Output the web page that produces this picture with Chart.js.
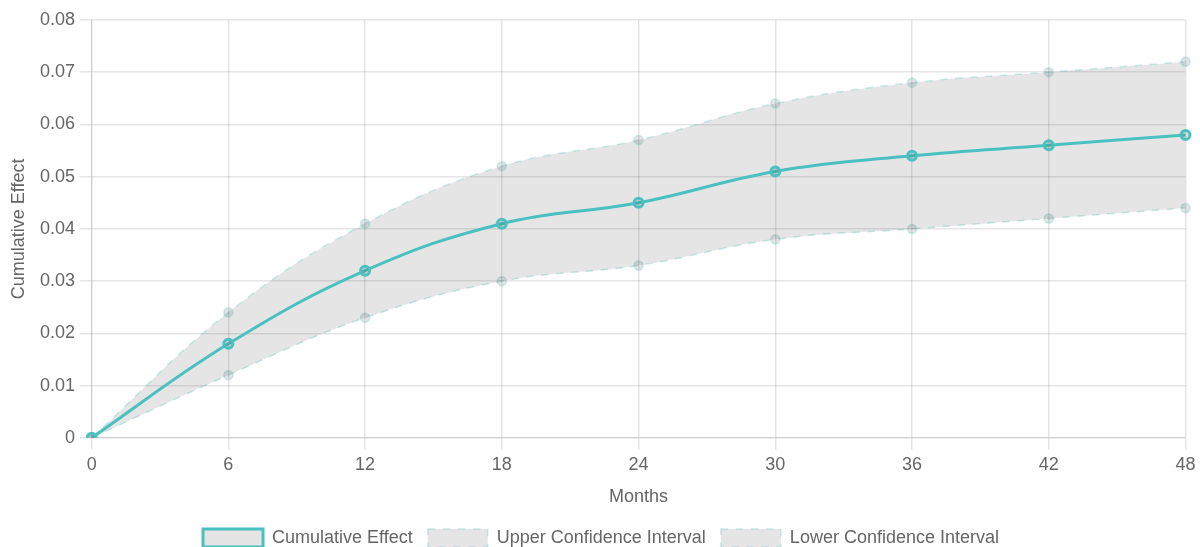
<!DOCTYPE html>
<html>
<head>
<meta charset="utf-8">
<script src="https://cdn.jsdelivr.net/npm/chart.js@4/dist/chart.umd.min.js"></script>
<style>
  html, body { margin: 0; padding: 0; background: #fff; overflow: hidden; }
  #wrap { width: 1200px; height: 557px; }
</style>
</head>
<body>
<div id="wrap"><canvas id="chart"></canvas></div>
<script>
const months = ['0', '6', '12', '18', '24', '30', '36', '42', '48'];
const cumulativeEffect = [0, 0.018, 0.032, 0.041, 0.045, 0.051, 0.054, 0.056, 0.058];
const upperCI = [0, 0.024, 0.041, 0.052, 0.057, 0.064, 0.068, 0.070, 0.072];
const lowerCI = [0, 0.012, 0.023, 0.030, 0.033, 0.038, 0.040, 0.042, 0.044];

Chart.defaults.font.size = 18;
Chart.defaults.color = '#666';

const teal = 'rgb(75, 192, 192)';
const band = 'rgba(0, 0, 0, 0.1)';
const gridStyle = { color: 'rgba(0,0,0,0.1)', lineWidth: 1.5, tickLength: 12 };

new Chart(document.getElementById('chart'), {
  type: 'line',
  data: {
    labels: months,
    datasets: [
      {
        label: 'Cumulative Effect',
        data: cumulativeEffect,
        borderColor: teal,
        backgroundColor: band,
        borderWidth: 3,
        pointRadius: 4.5,
        pointBorderWidth: 3,
        fill: false,
        tension: 0.4
      },
      {
        label: 'Upper Confidence Interval',
        data: upperCI,
        borderColor: 'rgba(75, 192, 192, 0.3)',
        backgroundColor: band,
        borderDash: [7.5, 7.5],
        borderWidth: 1.5,
        pointRadius: 4.5,
        pointBorderWidth: 1.5,
        fill: '+1',
        tension: 0.4
      },
      {
        label: 'Lower Confidence Interval',
        data: lowerCI,
        borderColor: 'rgba(75, 192, 192, 0.3)',
        backgroundColor: band,
        borderDash: [7.5, 7.5],
        borderWidth: 1.5,
        pointRadius: 4.5,
        pointBorderWidth: 1.5,
        fill: false,
        tension: 0.4
      }
    ]
  },
  options: {
    responsive: true,
    maintainAspectRatio: false,
    animation: false,
    layout: { padding: { top: 20, left: 2, right: 0, bottom: 0 } },
    plugins: {
      legend: {
        position: 'bottom',
        labels: { boxWidth: 60, boxHeight: 18, padding: 15 }
      },
      tooltip: { enabled: false }
    },
    scales: {
      x: {
        title: { display: true, text: 'Months', padding: { top: 6, bottom: 6 } },
        ticks: { padding: 4.5 },
        grid: gridStyle
      },
      y: {
        min: 0,
        max: 0.08,
        ticks: { stepSize: 0.01, padding: 4.5 },
        title: { display: true, text: 'Cumulative Effect', padding: { top: 6, bottom: 6 } },
        grid: gridStyle
      }
    }
  }
});
</script>
</body>
</html>
